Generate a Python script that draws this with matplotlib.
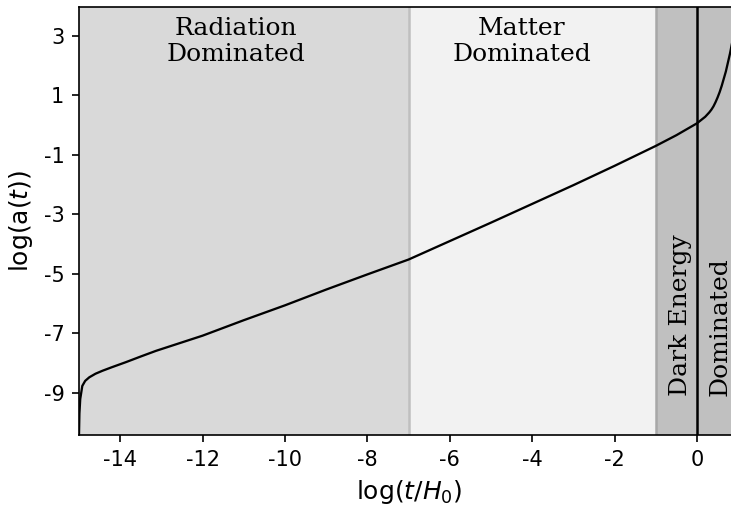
import matplotlib
matplotlib.use('Agg')
import matplotlib.pyplot as plt

plt.rcParams['axes.unicode_minus'] = False

# scale factor a(t), log10 vs log10(t/H0)
log_t = [-15.0, -14.99, -14.97, -14.92, -14.85, -14.75, -14.6, -14.43, -14.2, -13.86,
         -13.5, -13.13, -12.0, -11.0, -10.0, -9.0, -8.0, -7.0, -6.0, -5.0,
         -4.0, -3.0, -2.0, -1.0, -0.5, 0.0, 0.1, 0.2, 0.3, 0.35, 0.4,
         0.45, 0.5, 0.55, 0.6, 0.7, 0.8, 0.9]
log_a = [-10.42, -9.7, -9.21, -8.77, -8.6, -8.48, -8.36, -8.26, -8.14, -7.97,
         -7.78, -7.59, -7.08, -6.56, -6.06, -5.53, -5.02, -4.52, -3.9, -3.28,
         -2.65, -2.02, -1.37, -0.7, -0.34, 0.06, 0.17, 0.28, 0.43, 0.52, 0.63,
         0.77, 0.93, 1.11, 1.32, 1.8, 2.4, 3.1]

eras = ['Radiation\nDominated', 'Matter\nDominated']
era_bounds = [(-15, -7), (-7, -1), (-1, 2)]
era_colors = ['#d9d9d9', '#f2f2f2', '#c0c0c0']
yticks = [-9, -7, -5, -3, -1, 1, 3]

fig = plt.figure(figsize=(731/150, 507/150), dpi=150)
ax = fig.add_axes([79/731, 1 - 435/507, 660/731, 428/507])

for (lo, hi), c in zip(era_bounds, era_colors):
    ax.axvspan(lo, hi, color=c, lw=0, zorder=0)
ax.axvline(-7, color='#bfbfbf', lw=1.2, zorder=1)
ax.axvline(-1, color='#a8a8a8', lw=1.2, zorder=1)
ax.axvline(0, color='k', lw=1.2, zorder=2)

ax.plot(log_t, log_a, color='k', lw=1.1, zorder=3)

ax.text(-11.2, 3.62, eras[0], family='DejaVu Serif', fontsize=12,
        ha='center', va='top', linespacing=1.15)
ax.text(-4.25, 3.62, eras[1], family='DejaVu Serif', fontsize=12,
        ha='center', va='top', linespacing=1.15)
ax.text(-0.4, -9.1, 'Dark Energy', family='DejaVu Serif', fontsize=12,
        rotation=90, ha='center', va='bottom')
ax.text(0.55, -9.1, 'Dominated', family='DejaVu Serif', fontsize=12,
        rotation=90, ha='center', va='bottom')

ax.set_xlim(-15, (739 - 697) / 41.2)
ax.set_ylim(-10.42, 3.97)
ax.set_yticks(yticks)
ax.set_xticks([-14, -12, -10, -8, -6, -4, -2, 0])
ax.set_xlabel('log($t/H_0$)', fontsize=12)
ax.set_ylabel('log(a($t$))', fontsize=12)

fig.savefig('out.png', dpi=150)
